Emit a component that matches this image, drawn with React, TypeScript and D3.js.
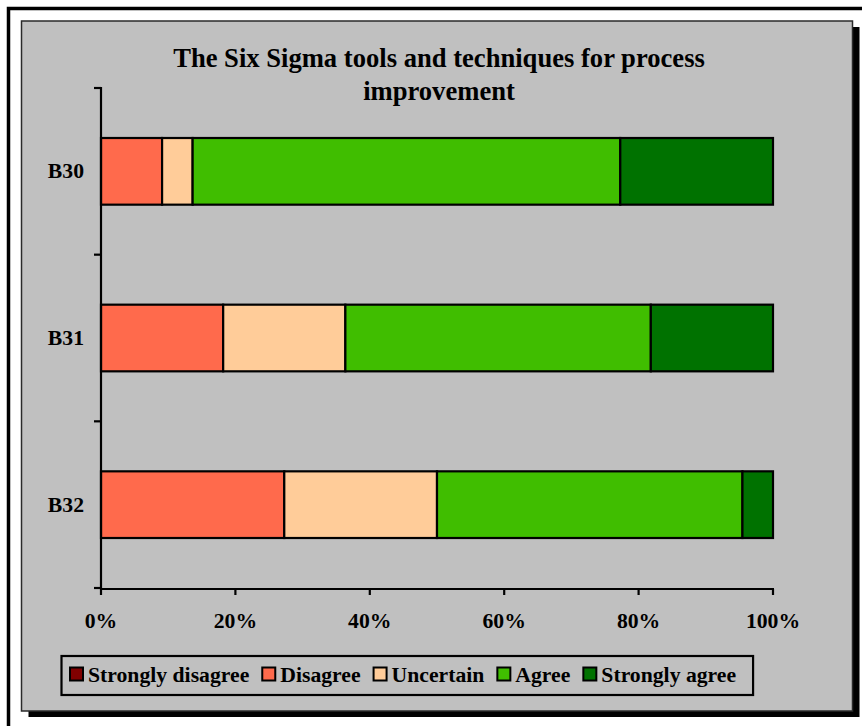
import React, { useEffect, useRef } from "react";
import * as d3 from "d3";

// Survey items (rows of the chart)
const categories = ["B30", "B31", "B32"];

// Response options, in stacking order
const seriesNames = ["Strongly disagree", "Disagree", "Uncertain", "Agree", "Strongly agree"];

// Number of respondents per answer for B30, B31, B32
const stronglyDisagree = [0, 0, 0];
const disagree = [2, 4, 6];
const uncertain = [1, 4, 5];
const agree = [14, 10, 10];
const stronglyAgree = [5, 4, 1];

const seriesColors = ["#800000", "#FF6A4C", "#FFCC99", "#40BE00", "#007200"];

const xTicks = [0, 0.2, 0.4, 0.6, 0.8, 1];

const titleLines = ["The Six Sigma tools and techniques for process", "improvement"];

const FONT = "'Liberation Serif', 'Times New Roman', Times, serif";
const LABEL_SIZE = 21.7;

export default function App() {
  const ref = useRef<SVGSVGElement | null>(null);

  useEffect(() => {
    const svg = d3.select(ref.current);
    svg.selectAll("*").remove();

    const columns = [stronglyDisagree, disagree, uncertain, agree, stronglyAgree];
    const rows = categories.map((c, i) => {
      const r: any = { category: c };
      seriesNames.forEach((s, j) => (r[s] = columns[j][i]));
      return r;
    });
    const stacked = d3.stack<any>().keys(seriesNames).offset(d3.stackOffsetExpand)(rows);

    // Page frame
    svg.append("rect")
      .attr("x", 8.5).attr("y", 8.5).attr("width", 900).attr("height", 760)
      .attr("fill", "#ffffff").attr("stroke", "#000").attr("stroke-width", 3.5);

    // Chart area with drop shadow
    const area = { x: 21.5, y: 21, w: 831, h: 690 };
    svg.append("rect")
      .attr("x", area.x + 7).attr("y", area.y + 6).attr("width", area.w).attr("height", area.h)
      .attr("fill", "#000");
    svg.append("rect")
      .attr("x", area.x).attr("y", area.y).attr("width", area.w).attr("height", area.h)
      .attr("fill", "#C0C0C0").attr("stroke", "#2a2a2a").attr("stroke-width", 1.5);

    // Title
    const title = svg.append("text")
      .attr("x", 439).attr("text-anchor", "middle")
      .attr("font-family", FONT).attr("font-weight", "bold").attr("font-size", 26.6)
      .attr("fill", "#000");
    titleLines.forEach((line, i) => {
      title.append("tspan").attr("x", 439).attr("y", 67 + i * 33).text(line);
    });

    const x = d3.scaleLinear().domain([0, 1]).range([101, 773]);
    const y = d3.scaleBand<string>().domain(categories).range([88, 588])
      .paddingInner(0.6).paddingOuter(0.3);

    // Bars
    const g = svg.append("g");
    stacked.forEach((layer, li) => {
      g.selectAll(null)
        .data(layer)
        .join("rect")
        .filter((d: any) => d[1] - d[0] > 0)
        .attr("x", (d: any) => x(d[0]))
        .attr("y", (d: any) => y(d.data.category)!)
        .attr("width", (d: any) => x(d[1]) - x(d[0]))
        .attr("height", y.bandwidth())
        .attr("fill", seriesColors[li])
        .attr("stroke", "#000")
        .attr("stroke-width", 2.2);
    });

    // Category axis
    const axisG = svg.append("g").attr("stroke", "#000").attr("stroke-width", 2.2);
    axisG.append("line").attr("x1", 101).attr("x2", 101).attr("y1", 87).attr("y2", 589);
    const step = y.step();
    const bounds = d3.range(categories.length + 1).map((i) => 88 + i * step);
    bounds.forEach((b) => {
      axisG.append("line").attr("x1", 94).attr("x2", 101).attr("y1", b).attr("y2", b);
    });
    svg.selectAll(null)
      .data(categories)
      .join("text")
      .attr("x", 84)
      .attr("y", (d) => y(d)! + y.bandwidth() / 2 + 7)
      .attr("text-anchor", "end")
      .attr("font-family", FONT).attr("font-weight", "bold").attr("font-size", LABEL_SIZE)
      .text((d) => d);

    // Value axis
    axisG.append("line").attr("x1", 100).attr("x2", 774).attr("y1", 589).attr("y2", 589);
    xTicks.forEach((t) => {
      axisG.append("line").attr("x1", x(t)).attr("x2", x(t)).attr("y1", 589).attr("y2", 595);
    });
    const fmt = d3.format(".0%");
    svg.selectAll(null)
      .data(xTicks)
      .join("text")
      .attr("x", (d) => x(d))
      .attr("y", 628)
      .attr("text-anchor", "middle")
      .attr("font-family", FONT).attr("font-weight", "bold").attr("font-size", LABEL_SIZE)
      .text((d) => fmt(d));

    // Legend
    const legend = svg.append("g");
    const legendBox = legend.append("rect")
      .attr("x", 61.5).attr("y", 656).attr("height", 39)
      .attr("fill", "none").attr("stroke", "#000").attr("stroke-width", 2.2);
    let cx = 70;
    seriesNames.forEach((name, i) => {
      legend.append("rect")
        .attr("x", cx).attr("y", 667.5).attr("width", 13).attr("height", 13)
        .attr("fill", seriesColors[i]).attr("stroke", "#000").attr("stroke-width", 2);
      const t = legend.append("text")
        .attr("x", cx + 18).attr("y", 682)
        .attr("font-family", FONT).attr("font-weight", "bold").attr("font-size", LABEL_SIZE)
        .text(name);
      const w = (t.node() as SVGTextElement).getComputedTextLength();
      cx = cx + 18 + w + 13;
    });
    legendBox.attr("width", cx - 61.5 + 4);
  }, []);

  return (
    <svg
      ref={ref}
      width={862}
      height={726}
      style={{ position: "fixed", left: 0, top: 0, display: "block" }}
    />
  );
}
